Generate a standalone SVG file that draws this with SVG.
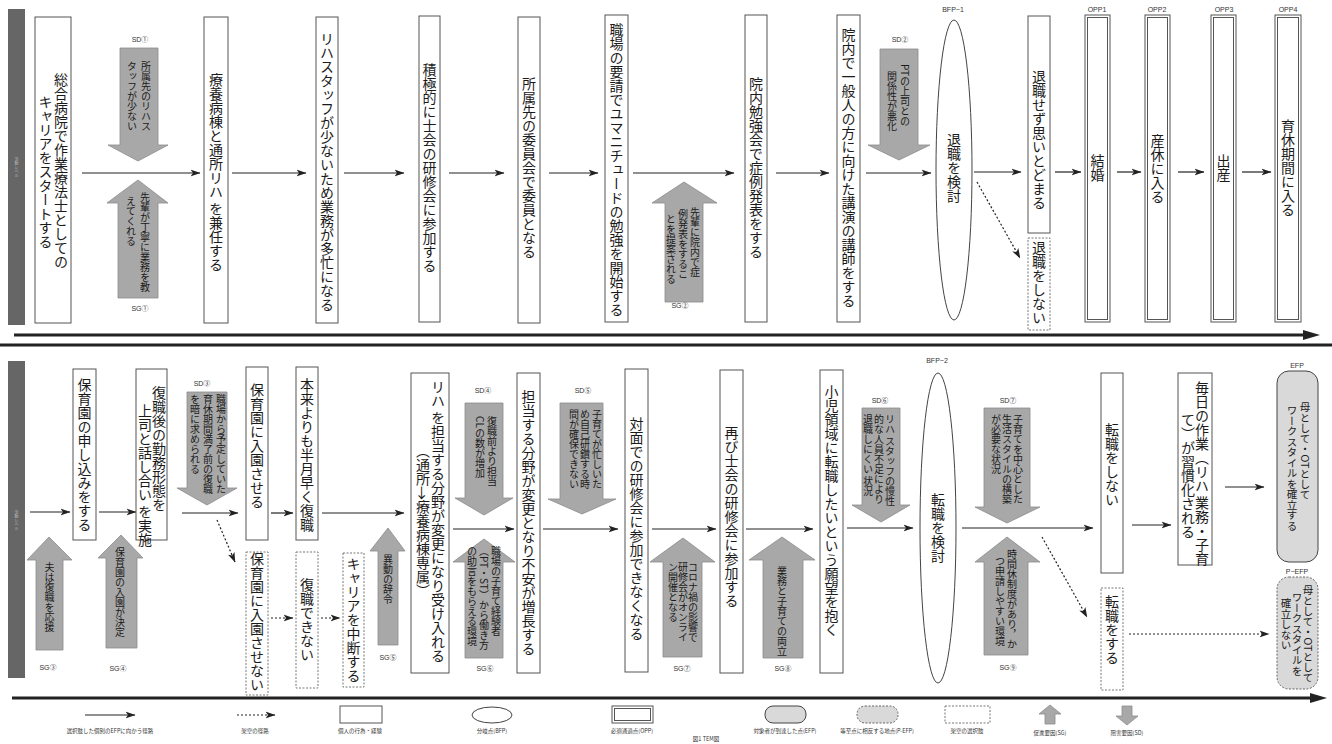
<svg xmlns="http://www.w3.org/2000/svg" width="1332" height="744" viewBox="0 0 1332 744">
<defs>
<style>
.t{font-family:"Noto Sans CJK JP","Noto Sans CJK SC",sans-serif;fill:#1a1a1a}
.v{writing-mode:vertical-rl}
.m{text-anchor:middle}
.f14{font-size:14px}
.f10{font-size:10px}
.f105{font-size:10.5px}
.lb{font-family:"Liberation Sans","Noto Sans CJK JP",sans-serif;font-size:7px;fill:#333;text-anchor:middle}
.lg{font-family:"Noto Sans CJK JP",sans-serif;font-size:5.5px;fill:#333;text-anchor:middle}
.bx{fill:#fff;stroke:#555;stroke-width:1}
.db{fill:#fff;stroke:#777;stroke-width:1;stroke-dasharray:2 1.5}
.ga{fill:#a8a8a8;stroke:#8c8c8c;stroke-width:0.8}
.bar{fill:#666}
.bt{font-family:"Noto Sans CJK JP",sans-serif;font-size:4px;fill:#bbb;writing-mode:vertical-rl;text-anchor:middle}
.c{fill:none;stroke:#222;stroke-width:1.2;marker-end:url(#ah)}
.d{stroke-dasharray:2 2}
.tl{fill:none;stroke:#222;stroke-width:3}
.efp{fill:#d9d9d9;stroke:#444;stroke-width:1}
.pefp{fill:#d9d9d9;stroke:#666;stroke-width:1;stroke-dasharray:2 1.5}
</style>
<marker id="ah" markerUnits="userSpaceOnUse" markerWidth="10" markerHeight="8" viewBox="0 0 10 8" refX="9.5" refY="4" orient="auto"><path d="M0,0.5 L10,4 L0,7.5 L2.5,4 z" fill="#222"/></marker>
</defs>
<rect x="0" y="0" width="1332" height="744" fill="#fff"/>

<g id="axes">
<line class="tl" x1="14" y1="335" x2="1305" y2="335"/>
<polygon points="1303,330 1320,335 1303,340" fill="#222"/>
<line class="tl" x1="0" y1="345" x2="1332" y2="345"/>
<line class="tl" x1="12" y1="698" x2="1312" y2="698"/>
<polygon points="1310,693 1327,698 1310,703" fill="#222"/>
</g>

<g id="bar1"><rect class="bar" x="8" y="9" width="17" height="316"/><text class="bt" x="16.5" y="167">活動レベル</text></g>
<g id="bar2"><rect class="bar" x="8" y="361" width="17" height="317"/><text class="bt" x="16.5" y="520">活動レベル</text></g>

<g id="connectors">
<line class="c" x1="82" y1="173" x2="200" y2="173"/>
<line class="c" x1="232" y1="173" x2="306" y2="173"/>
<line class="c" x1="344" y1="173" x2="404" y2="173"/>
<line class="c" x1="449" y1="173" x2="504" y2="173"/>
<line class="c" x1="549" y1="173" x2="598" y2="173"/>
<line class="c" x1="633" y1="173" x2="734" y2="173"/>
<line class="c" x1="776" y1="173" x2="829" y2="173"/>
<line class="c" x1="866" y1="173" x2="931" y2="173"/>
<line class="c" x1="974" y1="172" x2="1021" y2="172"/>
<line class="c d" x1="977" y1="182" x2="1020" y2="258"/>
<line class="c" x1="1055" y1="172" x2="1081" y2="172"/>
<line class="c" x1="1117" y1="172" x2="1141" y2="172"/>
<line class="c" x1="1178" y1="172" x2="1204" y2="172"/>
<line class="c" x1="1242" y1="172" x2="1271" y2="172"/>

<line class="c" x1="30" y1="512" x2="70" y2="512"/>
<line class="c" x1="99" y1="512" x2="136" y2="512"/>
<line class="c" x1="182" y1="513" x2="238" y2="513"/>
<line class="c d" x1="217" y1="520" x2="235" y2="562"/>
<line class="c" x1="271" y1="513" x2="293" y2="513"/>
<line class="c d" x1="271" y1="618" x2="293" y2="618"/>
<line class="c" x1="322" y1="513" x2="404" y2="513"/>
<line class="c d" x1="321" y1="618" x2="340" y2="618"/>
<line class="c" x1="453" y1="529" x2="514" y2="529"/>
<line class="c" x1="543" y1="529" x2="618" y2="529"/>
<line class="c" x1="652" y1="529" x2="716" y2="529"/>
<line class="c" x1="746" y1="529" x2="813" y2="529"/>
<line class="c" x1="847" y1="528" x2="913" y2="528"/>
<line class="c" x1="962" y1="528" x2="1093" y2="528"/>
<line class="c d" x1="1042" y1="537" x2="1087" y2="617"/>
<line class="c" x1="1132" y1="525" x2="1171" y2="525"/>
<line class="c" x1="1225" y1="487" x2="1264" y2="487"/>
<line class="c d" x1="1129" y1="634" x2="1269" y2="634"/>
</g>

<g id="n1"><rect class="bx" x="35" y="17" width="36" height="306"/>
<text class="t v m f14" x="61" y="171">総合病院で作業療法士としての</text>
<text class="t v m f14" x="45.5" y="172">キャリアをスタートする</text></g>
<g id="sd1"><text class="lb" x="140" y="42">SD①</text>
<polygon class="ga" points="120,48 158,48 158,145 168,145 138,161 108,145 120,145"/>
<text class="t v f10" x="146" y="61">所属先のリハス</text>
<text class="t v f10" x="132" y="61">タッフが少ない</text></g>
<g id="sg1"><polygon class="ga" points="138,180 168,203 158,203 158,298 118,298 118,203 107,203"/>
<text class="t v f10" x="145" y="192">先輩が丁寧に業務を教</text>
<text class="t v f10" x="131" y="196">えてくれる</text>
<text class="lb" x="140" y="311">SG①</text></g>
<g id="n2"><rect class="bx" x="204" y="17" width="24" height="306"/><text class="t v m f14" x="216" y="172">療養病棟と通所リハ を兼任する</text></g>
<g id="n3"><rect class="bx" x="316" y="17" width="22" height="306"/><text class="t v m f14" x="327" y="172">リハスタッフが少ないため業務が多忙になる</text></g>
<g id="n4"><rect class="bx" x="419" y="16" width="21" height="306"/><text class="t v m f14" x="429.5" y="168">積極的に士会の研修会に参加する</text></g>
<g id="n5"><rect class="bx" x="518" y="17" width="22" height="306"/><text class="t v m f14" x="529" y="168">所属先の委員会で委員となる</text></g>
<g id="n6"><rect class="bx" x="605" y="15" width="23" height="307"/><text class="t v m f14" x="616.5" y="170">職場の要請でユマニチュードの勉強を開始する</text></g>
<g id="sg2"><polygon class="ga" points="684,182 717,203 703,203 703,302 665,302 665,203 652,203"/>
<text class="t v f10" x="695" y="207">先輩に院内で症</text>
<text class="t v f10" x="683" y="209">例発表をするこ</text>
<text class="t v f10" x="671" y="214">とを提案される</text>
<text class="lb" x="680" y="308">SG②</text></g>
<g id="n7"><rect class="bx" x="745" y="15" width="22" height="307"/><text class="t v m f14" x="756" y="168">院内勉強会で症例発表をする</text></g>
<g id="n8"><rect class="bx" x="837" y="15" width="23" height="307"/><text class="t v m f14" x="848.5" y="168">院内で一般人の方に向けた講演の講師をする</text></g>
<g id="sd2"><text class="lb" x="900" y="42">SD②</text>
<polygon class="ga" points="880,49 918,49 918,145 930,145 899,160 868,145 880,145"/>
<text class="t v f10" x="905" y="64">PTの上司との</text>
<text class="t v f10" x="892" y="71">関係性が悪化</text></g>
<g id="bfp1"><text class="lb" x="953" y="12">BFP−1</text>
<ellipse cx="954" cy="170" rx="18" ry="150" fill="#fff" stroke="#444" stroke-width="1"/>
<text class="t v m f14" x="954" y="168">退職を検討</text></g>
<g id="n9"><rect class="bx" x="1028" y="16" width="22" height="217"/><text class="t v m f14" x="1039" y="140">退職せず思いとどまる</text></g>
<g id="n9b"><rect class="db" x="1028" y="238" width="22" height="92"/><text class="t v m f14" x="1039" y="283">退職をしない</text></g>
<g id="opp1"><text class="lb" x="1097" y="12">OPP1</text><rect class="bx" x="1085" y="15" width="25" height="307"/><rect class="bx" x="1087.5" y="17.5" width="20" height="302"/><text class="t v m f14" x="1097.5" y="168">結婚</text></g>
<g id="opp2"><text class="lb" x="1157" y="12">OPP2</text><rect class="bx" x="1145" y="15" width="25" height="307"/><rect class="bx" x="1147.5" y="17.5" width="20" height="302"/><text class="t v m f14" x="1157.5" y="169">産休に入る</text></g>
<g id="opp3"><text class="lb" x="1224" y="12">OPP3</text><rect class="bx" x="1211" y="15" width="25" height="307"/><rect class="bx" x="1213.5" y="17.5" width="20" height="302"/><text class="t v m f14" x="1223.5" y="168">出産</text></g>
<g id="opp4"><text class="lb" x="1288" y="12">OPP4</text><rect class="bx" x="1275" y="15" width="26" height="307"/><rect class="bx" x="1277.5" y="17.5" width="21" height="302"/><text class="t v m f14" x="1288" y="168">育休期間に入る</text></g>

<g id="sg3"><polygon class="ga" points="49,537 72,560 63,560 63,650 36,650 36,560 27,560"/>
<text class="t v f10" x="49.5" y="562">夫は復職を応援</text>
<text class="lb" x="48" y="670">SG③</text></g>
<g id="m1"><rect class="bx" x="73" y="369" width="23" height="171"/><text class="t v m f14" x="84.5" y="455">保育園の申し込みをする</text></g>
<g id="sg4"><polygon class="ga" points="121,535 143,558 137,558 137,648 106,648 106,558 98,558"/>
<text class="t v f10" x="120" y="547">保育園の入園が決定</text>
<text class="lb" x="118" y="671">SG④</text></g>
<g id="m2"><rect class="bx" x="136" y="369" width="31" height="171"/>
<text class="t v f14" x="159" y="386">復職後の勤務形態を</text>
<text class="t v f14" x="145" y="404">上司と話し合い を実施</text></g>
<g id="sd3"><text class="lb" x="202" y="386">SD③</text>
<polygon class="ga" points="187,392 227,392 227,488 237,488 207,505 177,488 187,488"/>
<text class="t v f10" x="221" y="394">職場から予定していた</text>
<text class="t v f10" x="208" y="394">育休期間満了前の復職</text>
<text class="t v f10" x="195" y="394">を暗に求められる</text></g>
<g id="m3"><rect class="bx" x="246" y="367" width="22" height="173"/><text class="t v m f14" x="257" y="446">保育園に入園させる</text></g>
<g id="m3b"><rect class="db" x="246" y="552" width="22" height="143"/><text class="t v m f14" x="257" y="622">保育園に入園させない</text></g>
<g id="m4"><rect class="bx" x="296" y="367" width="22" height="173"/><text class="t v m f14" x="307" y="455">本来よりも半月早く復職</text></g>
<g id="m4b"><rect class="db" x="296" y="552" width="22" height="136"/><text class="t v m f14" x="307" y="620">復職できない</text></g>
<g id="m4c"><rect class="db" x="343" y="553" width="21" height="134"/><text class="t v m f14" x="353.5" y="620">キャリアを中断する</text></g>
<g id="sg5"><polygon class="ga" points="388,528 405,551 398,551 398,645 378,645 378,551 370,551"/>
<text class="t v f10" x="388" y="554">異動の辞令</text>
<text class="lb" x="388" y="660">SG⑤</text></g>
<g id="m5"><rect class="bx" x="411" y="373" width="38" height="300"/>
<text class="t v m f14" x="438" y="521">リハ を担当する分野が変更になり受け入れる</text>
<text class="t v m f14" x="423" y="521">（通所→療養病棟専属）</text></g>
<g id="sd4"><text class="lb" x="483" y="393">SD④</text>
<polygon class="ga" points="465,403 503,403 503,498 513,498 484,515 455,498 465,498"/>
<text class="t v f10" x="492" y="416">復職前より担当</text>
<text class="t v f10" x="480" y="416">CLの数が増加</text></g>
<g id="sg6"><polygon class="ga" points="484,539 515,562 503,562 503,658 465,658 465,562 453,562"/>
<text class="t v f10" x="496" y="546">職場の子育て経験者</text>
<text class="t v f10" x="484" y="546">（PT・ST）から働き方</text>
<text class="t v f10" x="472" y="546">の助言をもらえる環境</text>
<text class="lb" x="485" y="671">SG⑥</text></g>
<g id="m6"><rect class="bx" x="517" y="373" width="23" height="300"/><text class="t v m f14" x="528.5" y="523">担当する分野が変更となり不安が増長する</text></g>
<g id="sd5"><text class="lb" x="583" y="393">SD⑤</text>
<polygon class="ga" points="560,403 603,403 603,499 616,499 582,514 548,499 560,499"/>
<text class="t v f10" x="597" y="409">子育てが忙しいた</text>
<text class="t v f10" x="585" y="409">め自己研鑽する時</text>
<text class="t v f10" x="574" y="409">間が確保できない</text></g>
<g id="m7"><rect class="bx" x="625" y="369" width="23" height="303"/><text class="t v m f14" x="636.5" y="529">対面での研修会に参加できなくなる</text></g>
<g id="sg7"><polygon class="ga" points="683,538 715,562 702,562 702,657 663,657 663,562 650,562"/>
<text class="t v f10" x="693" y="562">コロナ禍の影響で</text>
<text class="t v f10" x="683" y="562">研修会がオンライ</text>
<text class="t v f10" x="673" y="562">ン開催となる</text>
<text class="lb" x="682" y="671">SG⑦</text></g>
<g id="m8"><rect class="bx" x="720" y="370" width="23" height="303"/><text class="t v m f14" x="731.5" y="517">再び士会の研修会に参加する</text></g>
<g id="sg8"><polygon class="ga" points="782,537 815,560 803,560 803,658 763,658 763,560 749,560"/>
<text class="t v f10" x="782" y="566">業務と子育ての両立</text>
<text class="lb" x="783" y="671">SG⑧</text></g>
<g id="m9"><rect class="bx" x="820" y="370" width="23" height="303"/><text class="t v m f14" x="831.5" y="511">小児領域に転職したいという願望を抱く</text></g>
<g id="sd6"><text class="lb" x="880" y="403">SD⑥</text>
<polygon class="ga" points="862,408 900,408 900,505 910,505 881,522 852,505 862,505"/>
<text class="t v f10" x="890" y="414">リハ スタッフの慢性</text>
<text class="t v f10" x="879" y="414">的な人員不足により</text>
<text class="t v f10" x="868" y="414">退職しにくい 状況</text></g>
<g id="bfp2"><text class="lb" x="937" y="363">BFP−2</text>
<ellipse cx="938" cy="528" rx="18" ry="155" fill="#fff" stroke="#444" stroke-width="1"/>
<text class="t v m f14" x="938" y="528">転職を検討</text></g>
<g id="sd7"><text class="lb" x="1008" y="403">SD⑦</text>
<polygon class="ga" points="984,408 1030,408 1030,507 1040,507 1007,523 975,507 984,507"/>
<text class="t v f10" x="1018" y="414">子育てを中心とした</text>
<text class="t v f10" x="1007" y="414">生活スタイルの構築</text>
<text class="t v f10" x="996" y="414">が必要な状況</text></g>
<g id="sg9"><polygon class="ga" points="1007,537 1040,562 1028,562 1028,655 984,655 984,562 975,562"/>
<text class="t v f10" x="1012" y="549">時間休制度があり，か</text>
<text class="t v f10" x="1000" y="556">つ申請しやすい環境</text>
<text class="lb" x="1008" y="670">SG⑨</text></g>
<g id="m10"><rect class="bx" x="1101" y="373" width="22" height="200"/><text class="t v m f14" x="1112" y="465">転職をしない</text></g>
<g id="m10b"><rect class="db" x="1101" y="588" width="22" height="102"/><text class="t v m f14" x="1112" y="630">転職をする</text></g>
<g id="m11"><rect class="bx" x="1178" y="373" width="34" height="192"/>
<text class="t v m f14" x="1202" y="473">毎日の作業（リハ 業務・子育</text>
<text class="t v m f14" x="1188" y="476">て）が習慣化される</text></g>
<g id="efp"><text class="lb" x="1297" y="368">EFP</text>
<rect class="efp" x="1277" y="371" width="41" height="191" rx="12"/>
<text class="t v f105" x="1305" y="402">母として・OTとして</text>
<text class="t v f105" x="1292" y="405">ワークスタイルを確立する</text></g>
<g id="pefp"><text class="lb" x="1297" y="574">P−EFP</text>
<rect class="pefp" x="1277" y="577" width="41" height="112" rx="12"/>
<text class="t v f105" x="1308" y="585">母として・OTとして</text>
<text class="t v f105" x="1297" y="592">ワークスタイルを</text>
<text class="t v f105" x="1286" y="598">確立しない</text></g>

<g id="legend">
<line class="c" x1="85" y1="715" x2="135" y2="715"/>
<text class="lg" x="110" y="733">選択肢した個別のEFPに向かう径路</text>
<line class="c d" x1="237" y1="715" x2="275" y2="715"/>
<text class="lg" x="255" y="733">架空の径路</text>
<rect class="bx" x="340" y="706" width="42" height="17"/>
<text class="lg" x="360" y="733">個人の行為・経験</text>
<ellipse cx="492" cy="715" rx="20" ry="8" fill="#fff" stroke="#444" stroke-width="1"/>
<text class="lg" x="492" y="733">分岐点(BFP)</text>
<rect class="bx" x="612" y="706" width="41" height="17"/><rect class="bx" x="614.5" y="708.5" width="36" height="12"/>
<text class="lg" x="632" y="733">必須通過点(OPP)</text>
<text class="lg" x="706" y="741">図1 TEM図</text>
<rect class="efp" x="765" y="706" width="41" height="17" rx="8"/>
<text class="lg" x="785" y="733">対象者が到達した点(EFP)</text>
<rect class="pefp" x="857" y="706" width="41" height="17" rx="8"/>
<text class="lg" x="877" y="733">等至点に相反する地点(P-EFP)</text>
<rect class="db" x="945" y="706" width="45" height="17"/>
<text class="lg" x="967" y="733">架空の選択肢</text>
<polygon class="ga" points="1050,705 1061,714 1055,714 1055,724 1045,724 1045,714 1039,714"/>
<text class="lg" x="1050" y="735">促進要因(SG)</text>
<polygon class="ga" points="1122,706 1132,706 1132,716 1138,716 1127,725 1116,716 1122,716"/>
<text class="lg" x="1127" y="735">阻害要因(SD)</text>
</g>
</svg>
